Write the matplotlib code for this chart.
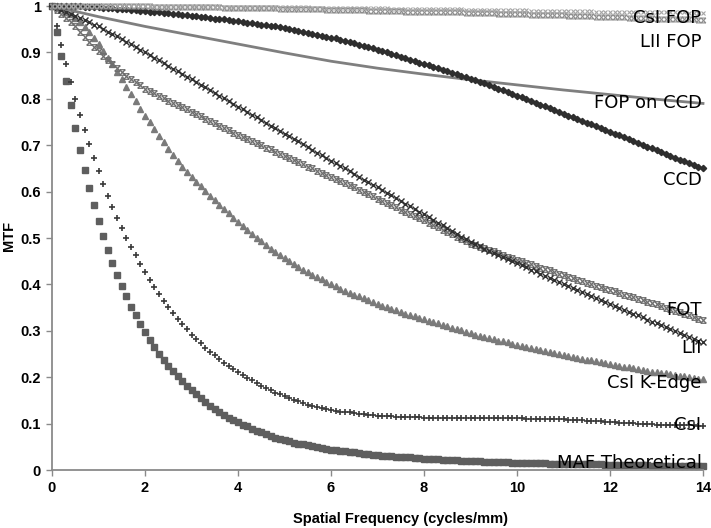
import numpy as np
import matplotlib
matplotlib.use("Agg")
import matplotlib.pyplot as plt
from matplotlib.path import Path

# spatial frequency sampled every 0.1 cycles/mm
freq = np.round(np.arange(141) * 0.1, 1)
freq_line = [0, 1, 2, 3, 4, 5, 6, 7, 8, 9, 10, 11, 12, 13, 14]

maf = [1.000, 0.945, 0.892, 0.838, 0.786, 0.736, 0.690, 0.647, 0.607, 0.571, 0.537,
       0.505, 0.475, 0.447, 0.420, 0.396, 0.374, 0.352, 0.333, 0.314, 0.297,
       0.281, 0.266, 0.251, 0.237, 0.225, 0.213, 0.202, 0.191, 0.181, 0.172,
       0.163, 0.155, 0.147, 0.139, 0.132, 0.125, 0.119, 0.113, 0.108, 0.103,
       0.098, 0.094, 0.089, 0.085, 0.081, 0.077, 0.074, 0.070, 0.067, 0.064,
       0.062, 0.059, 0.057, 0.055, 0.053, 0.051, 0.049, 0.047, 0.046, 0.044,
       0.043, 0.041, 0.040, 0.039, 0.038, 0.036, 0.035, 0.034, 0.033, 0.032,
       0.031, 0.030, 0.030, 0.029, 0.028, 0.027, 0.027, 0.026, 0.025, 0.024,
       0.024, 0.023, 0.023, 0.022, 0.022, 0.021, 0.021, 0.020, 0.020, 0.019,
       0.019, 0.019, 0.018, 0.018, 0.018, 0.017, 0.017, 0.017, 0.016, 0.016,
       0.016, 0.016, 0.015, 0.015, 0.015, 0.015, 0.014, 0.014, 0.014, 0.013,
       0.013, 0.013, 0.013, 0.013, 0.012, 0.012, 0.012, 0.012, 0.011, 0.011,
       0.011, 0.011, 0.011, 0.010, 0.010, 0.010, 0.010, 0.010, 0.009, 0.009,
       0.009, 0.009, 0.009, 0.009, 0.008, 0.008, 0.008, 0.008, 0.008, 0.008]

csi = [1.000, 0.957, 0.915, 0.875, 0.837, 0.800, 0.766, 0.733, 0.702, 0.672, 0.644,
       0.617, 0.591, 0.567, 0.544, 0.522, 0.501, 0.481, 0.463, 0.445, 0.427,
       0.410, 0.394, 0.379, 0.365, 0.351, 0.338, 0.326, 0.314, 0.303, 0.292,
       0.282, 0.273, 0.264, 0.255, 0.247, 0.239, 0.231, 0.224, 0.218, 0.211,
       0.205, 0.199, 0.193, 0.187, 0.182, 0.177, 0.172, 0.167, 0.163, 0.159,
       0.155, 0.151, 0.148, 0.144, 0.141, 0.138, 0.136, 0.134, 0.132, 0.130,
       0.128, 0.126, 0.125, 0.124, 0.122, 0.121, 0.120, 0.119, 0.118, 0.117,
       0.117, 0.116, 0.116, 0.115, 0.115, 0.115, 0.114, 0.114, 0.114, 0.113,
       0.113, 0.113, 0.113, 0.113, 0.112, 0.112, 0.112, 0.112, 0.112, 0.112,
       0.112, 0.111, 0.111, 0.111, 0.111, 0.111, 0.111, 0.111, 0.111, 0.111,
       0.111, 0.110, 0.110, 0.110, 0.110, 0.110, 0.110, 0.109, 0.109, 0.109,
       0.108, 0.108, 0.107, 0.107, 0.106, 0.106, 0.105, 0.105, 0.104, 0.103,
       0.103, 0.102, 0.102, 0.101, 0.101, 0.100, 0.100, 0.099, 0.099, 0.098,
       0.098, 0.098, 0.097, 0.097, 0.097, 0.096, 0.096, 0.096, 0.095, 0.095]

csi_kedge = [1.000, 0.999, 0.995, 0.989, 0.982, 0.974, 0.965, 0.955, 0.943, 0.931, 0.918,
             0.904, 0.889, 0.874, 0.858, 0.842, 0.826, 0.810, 0.795, 0.779, 0.764,
             0.749, 0.735, 0.720, 0.706, 0.692, 0.679, 0.666, 0.654, 0.642, 0.631,
             0.621, 0.611, 0.601, 0.591, 0.581, 0.572, 0.562, 0.553, 0.544, 0.535,
             0.526, 0.517, 0.509, 0.501, 0.493, 0.485, 0.477, 0.470, 0.463, 0.456,
             0.450, 0.444, 0.438, 0.432, 0.426, 0.421, 0.416, 0.411, 0.406, 0.401,
             0.396, 0.391, 0.386, 0.382, 0.378, 0.374, 0.370, 0.366, 0.362, 0.358,
             0.354, 0.351, 0.347, 0.344, 0.340, 0.337, 0.334, 0.331, 0.328, 0.325,
             0.322, 0.319, 0.316, 0.313, 0.310, 0.307, 0.304, 0.301, 0.298, 0.295,
             0.292, 0.289, 0.287, 0.284, 0.282, 0.279, 0.277, 0.275, 0.272, 0.270,
             0.268, 0.265, 0.263, 0.261, 0.259, 0.257, 0.254, 0.252, 0.250, 0.248,
             0.246, 0.244, 0.242, 0.240, 0.238, 0.236, 0.234, 0.232, 0.230, 0.228,
             0.226, 0.224, 0.223, 0.221, 0.219, 0.217, 0.216, 0.214, 0.212, 0.211,
             0.209, 0.208, 0.206, 0.205, 0.203, 0.202, 0.200, 0.199, 0.197, 0.196]

lii = [1.000, 0.996, 0.991, 0.987, 0.983, 0.978, 0.974, 0.969, 0.965, 0.960, 0.956,
       0.951, 0.945, 0.940, 0.935, 0.929, 0.923, 0.918, 0.912, 0.906, 0.900,
       0.894, 0.888, 0.883, 0.877, 0.871, 0.865, 0.859, 0.854, 0.848, 0.842,
       0.836, 0.830, 0.825, 0.819, 0.813, 0.807, 0.801, 0.795, 0.789, 0.783,
       0.777, 0.771, 0.766, 0.760, 0.754, 0.748, 0.742, 0.737, 0.731, 0.725,
       0.719, 0.713, 0.708, 0.702, 0.696, 0.690, 0.684, 0.679, 0.673, 0.667,
       0.661, 0.655, 0.650, 0.644, 0.638, 0.632, 0.626, 0.621, 0.615, 0.609,
       0.603, 0.597, 0.592, 0.586, 0.580, 0.574, 0.568, 0.563, 0.557, 0.551,
       0.545, 0.539, 0.533, 0.527, 0.521, 0.515, 0.509, 0.503, 0.497, 0.491,
       0.486, 0.482, 0.477, 0.473, 0.468, 0.464, 0.459, 0.455, 0.450, 0.446,
       0.441, 0.437, 0.432, 0.428, 0.423, 0.419, 0.414, 0.410, 0.405, 0.401,
       0.397, 0.392, 0.388, 0.384, 0.380, 0.375, 0.371, 0.367, 0.362, 0.358,
       0.354, 0.350, 0.345, 0.341, 0.337, 0.333, 0.329, 0.324, 0.320, 0.316,
       0.312, 0.308, 0.303, 0.299, 0.295, 0.291, 0.287, 0.283, 0.279, 0.275]

fot = [1.000, 0.992, 0.983, 0.975, 0.966, 0.956, 0.945, 0.934, 0.923, 0.912, 0.902,
       0.893, 0.884, 0.875, 0.866, 0.858, 0.850, 0.843, 0.836, 0.829, 0.822,
       0.817, 0.812, 0.806, 0.801, 0.796, 0.791, 0.786, 0.782, 0.777, 0.772,
       0.767, 0.762, 0.757, 0.752, 0.747, 0.742, 0.737, 0.732, 0.727, 0.722,
       0.718, 0.713, 0.709, 0.704, 0.700, 0.695, 0.691, 0.686, 0.682, 0.677,
       0.673, 0.668, 0.663, 0.659, 0.654, 0.650, 0.645, 0.641, 0.636, 0.632,
       0.627, 0.623, 0.618, 0.614, 0.609, 0.604, 0.600, 0.595, 0.590, 0.585,
       0.580, 0.576, 0.571, 0.566, 0.561, 0.557, 0.552, 0.547, 0.543, 0.538,
       0.533, 0.528, 0.523, 0.518, 0.513, 0.508, 0.503, 0.498, 0.493, 0.488,
       0.485, 0.481, 0.478, 0.474, 0.471, 0.467, 0.464, 0.460, 0.457, 0.453,
       0.450, 0.446, 0.443, 0.440, 0.436, 0.433, 0.430, 0.427, 0.423, 0.420,
       0.417, 0.413, 0.410, 0.407, 0.404, 0.401, 0.397, 0.394, 0.391, 0.388,
       0.385, 0.382, 0.378, 0.375, 0.372, 0.369, 0.366, 0.363, 0.360, 0.357,
       0.353, 0.350, 0.346, 0.343, 0.340, 0.336, 0.333, 0.330, 0.326, 0.323]

ccd = [1.000, 1.000, 1.000, 0.999, 0.999, 0.999, 0.999, 0.998, 0.998, 0.997, 0.997,
       0.996, 0.996, 0.995, 0.994, 0.994, 0.993, 0.992, 0.991, 0.990, 0.989,
       0.988, 0.987, 0.986, 0.985, 0.984, 0.983, 0.982, 0.981, 0.980, 0.979,
       0.978, 0.977, 0.976, 0.975, 0.973, 0.972, 0.971, 0.970, 0.968, 0.967,
       0.966, 0.964, 0.963, 0.962, 0.960, 0.959, 0.957, 0.956, 0.954, 0.952,
       0.950, 0.948, 0.946, 0.944, 0.942, 0.940, 0.938, 0.936, 0.934, 0.932,
       0.930, 0.927, 0.925, 0.922, 0.920, 0.917, 0.914, 0.912, 0.909, 0.906,
       0.903, 0.900, 0.897, 0.894, 0.891, 0.887, 0.884, 0.881, 0.878, 0.875,
       0.872, 0.869, 0.866, 0.862, 0.859, 0.856, 0.853, 0.850, 0.846, 0.843,
       0.840, 0.836, 0.833, 0.829, 0.825, 0.822, 0.818, 0.814, 0.811, 0.807,
       0.803, 0.799, 0.795, 0.791, 0.787, 0.784, 0.780, 0.776, 0.772, 0.768,
       0.764, 0.760, 0.756, 0.752, 0.748, 0.745, 0.741, 0.737, 0.733, 0.729,
       0.725, 0.721, 0.717, 0.713, 0.709, 0.705, 0.701, 0.697, 0.693, 0.689,
       0.685, 0.681, 0.677, 0.673, 0.669, 0.666, 0.662, 0.658, 0.654, 0.650]

fop_on_ccd = [1.000, 0.977, 0.956, 0.937, 0.918, 0.899, 0.881, 0.866,
              0.853, 0.841, 0.830, 0.819, 0.809, 0.799, 0.790]

lii_fop = [1.000, 1.000, 1.000, 1.000, 1.000, 1.000, 1.000, 1.000, 1.000, 1.000, 1.000,
           1.000, 1.000, 0.999, 0.999, 0.999, 0.999, 0.999, 0.999, 0.999, 0.999,
           0.999, 0.998, 0.998, 0.998, 0.998, 0.998, 0.998, 0.998, 0.998, 0.997,
           0.997, 0.997, 0.997, 0.997, 0.997, 0.997, 0.996, 0.996, 0.996, 0.996,
           0.996, 0.996, 0.995, 0.995, 0.995, 0.995, 0.995, 0.995, 0.994, 0.994,
           0.994, 0.994, 0.994, 0.993, 0.993, 0.993, 0.993, 0.993, 0.992, 0.992,
           0.992, 0.992, 0.991, 0.991, 0.991, 0.991, 0.991, 0.990, 0.990, 0.990,
           0.990, 0.989, 0.989, 0.989, 0.989, 0.988, 0.988, 0.988, 0.988, 0.988,
           0.987, 0.987, 0.987, 0.987, 0.986, 0.986, 0.986, 0.986, 0.985, 0.985,
           0.985, 0.984, 0.984, 0.984, 0.984, 0.983, 0.983, 0.983, 0.983, 0.982,
           0.982, 0.982, 0.981, 0.981, 0.981, 0.981, 0.980, 0.980, 0.980, 0.980,
           0.979, 0.979, 0.979, 0.978, 0.978, 0.978, 0.977, 0.977, 0.977, 0.977,
           0.976, 0.976, 0.976, 0.975, 0.975, 0.975, 0.974, 0.974, 0.974, 0.973,
           0.973, 0.973, 0.972, 0.972, 0.972, 0.971, 0.971, 0.971, 0.970, 0.970]

csi_fop = [1.000, 1.000, 1.000, 1.000, 1.000, 1.000, 1.000, 1.000, 1.000, 1.000, 1.000,
           1.000, 1.000, 1.000, 1.000, 1.000, 1.000, 1.000, 1.000, 1.000, 1.000,
           1.000, 0.999, 0.999, 0.999, 0.999, 0.999, 0.999, 0.999, 0.999, 0.999,
           0.999, 0.999, 0.999, 0.999, 0.998, 0.998, 0.998, 0.998, 0.998, 0.998,
           0.998, 0.998, 0.998, 0.998, 0.998, 0.997, 0.997, 0.997, 0.997, 0.997,
           0.997, 0.997, 0.997, 0.997, 0.997, 0.996, 0.996, 0.996, 0.996, 0.996,
           0.996, 0.996, 0.996, 0.996, 0.995, 0.995, 0.995, 0.995, 0.995, 0.995,
           0.995, 0.995, 0.994, 0.994, 0.994, 0.994, 0.994, 0.994, 0.994, 0.994,
           0.993, 0.993, 0.993, 0.993, 0.993, 0.993, 0.993, 0.993, 0.992, 0.992,
           0.992, 0.992, 0.992, 0.992, 0.992, 0.991, 0.991, 0.991, 0.991, 0.991,
           0.991, 0.991, 0.990, 0.990, 0.990, 0.990, 0.990, 0.990, 0.990, 0.990,
           0.989, 0.989, 0.989, 0.989, 0.989, 0.989, 0.988, 0.988, 0.988, 0.988,
           0.988, 0.988, 0.988, 0.987, 0.987, 0.987, 0.987, 0.987, 0.987, 0.987,
           0.986, 0.986, 0.986, 0.986, 0.986, 0.986, 0.985, 0.985, 0.985, 0.985]

# label text and the y value where each label sits (baseline)
labels = ["CsI FOP", "LII FOP", "FOP on CCD", "CCD", "FOT", "LII",
          "CsI K-Edge", "CsI", "MAF Theoretical"]
label_y = [0.963, 0.912, 0.780, 0.614, 0.334, 0.252, 0.176, 0.086, 0.004]

# hourglass marker (x with top and bottom bars) like the Excel one
hourglass = Path([(-1, -1), (1, 1), (-1, 1), (1, -1), (-1, 1), (1, 1), (-1, -1), (1, -1)],
                 [Path.MOVETO, Path.LINETO, Path.MOVETO, Path.LINETO,
                  Path.MOVETO, Path.LINETO, Path.MOVETO, Path.LINETO])

fig = plt.figure(figsize=(7.11, 5.28), dpi=100)
ax = fig.add_axes([52 / 711, 1 - 470 / 528, (703 - 52) / 711, (470 - 6) / 528])

ax.plot(freq, maf, ls="none", marker="s", ms=4.4, color="#5e5e5e", clip_on=False)
ax.plot(freq, csi, ls="none", marker="+", ms=4.8, mew=1.2, color="#3a3a3a", clip_on=False)
ax.plot(freq, csi_kedge, ls="none", marker="^", ms=4.8, color="#7a7a7a", clip_on=False)
ax.plot(freq, fot, ls="none", marker=hourglass, ms=4.0, mew=0.9, mfc="none",
        color="#6e6e6e", clip_on=False)
ax.plot(freq, lii, ls="none", marker="x", ms=4.0, mew=1.0, color="#303030", clip_on=False)
ax.plot(freq_line, fop_on_ccd, ls="-", lw=2.0, color="#7f7f7f", clip_on=False)
ax.plot(freq, ccd, ls="none", marker="D", ms=3.2, color="#2e2e2e", clip_on=False)
ax.plot(freq, lii_fop, ls="none", marker=hourglass, ms=3.5, mew=0.8, mfc="none",
        color="#8e8e8e", clip_on=False)
ax.plot(freq, csi_fop, ls="none", marker="x", ms=3.5, mew=0.8, color="#a5a5a5", clip_on=False)

for txt, yv in zip(labels, label_y):
    ax.text(13.97, yv, txt, ha="right", va="baseline", fontsize=13,
            family="DejaVu Sans", color="black", zorder=5)

ax.set_xlim(0, 14)
ax.set_ylim(0, 1)
ax.set_xticks(range(0, 15, 2))
ax.set_yticks([i / 10 for i in range(11)])
ax.set_yticklabels(["0", "0.1", "0.2", "0.3", "0.4", "0.5", "0.6", "0.7", "0.8", "0.9", "1"])

for side in ["top", "right"]:
    ax.spines[side].set_visible(False)
for side in ["left", "bottom"]:
    ax.spines[side].set_color("#8a8a8a")
    ax.spines[side].set_linewidth(1.3)

ax.tick_params(direction="out", length=4, width=1, color="#8a8a8a", pad=4)
for lab in ax.get_xticklabels() + ax.get_yticklabels():
    lab.set_family("Liberation Sans")
    lab.set_fontweight("bold")
    lab.set_fontsize(10.5)

ax.set_xlabel("Spatial Frequency (cycles/mm)", family="Liberation Sans",
              fontweight="bold", fontsize=10.5)
ax.set_ylabel("MTF", family="Liberation Sans", fontweight="bold", fontsize=10.5)
ax.xaxis.set_label_coords(0.535, -0.09)
ax.yaxis.set_label_coords(-0.056, 0.504)

fig.savefig("out.png", dpi=100)
